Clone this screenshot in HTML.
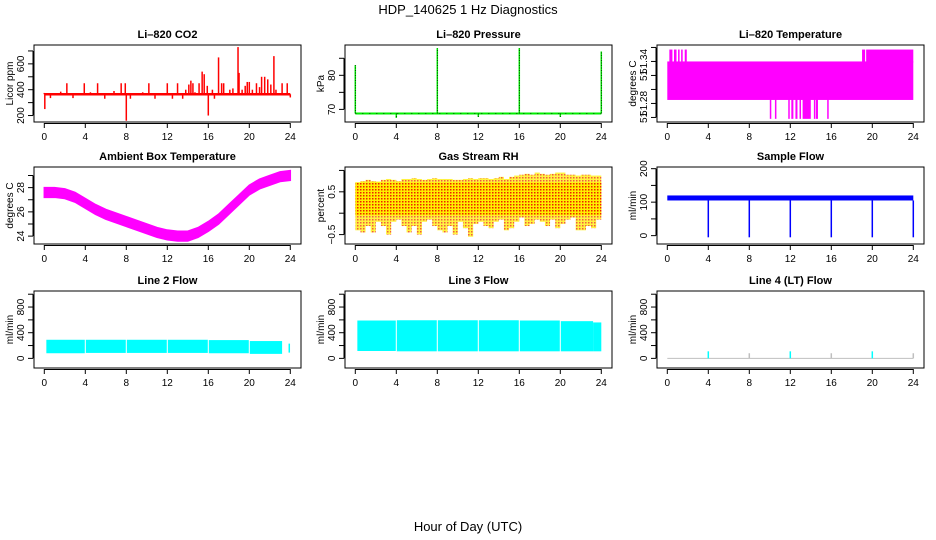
<!DOCTYPE html>
<html><head><meta charset="utf-8"><style>
html,body{margin:0;padding:0;background:#fff;}
svg{display:block;font-family:"Liberation Sans",sans-serif;}
</style></head><body>
<svg id="c" width="936" height="540" viewBox="0 0 936 540" xmlns="http://www.w3.org/2000/svg">
<defs>
<pattern id="rhpat" width="3" height="3" patternUnits="userSpaceOnUse"><rect width="3" height="3" fill="#ffee00"/><rect x="0" y="0" width="1.5" height="1.5" fill="#ee2200"/></pattern>
</defs>
<text x="468" y="14" text-anchor="middle" font-size="13">HDP_140625  1 Hz Diagnostics</text>
<text x="468" y="531" text-anchor="middle" font-size="13">Hour of Day (UTC)</text>
</svg>
<script>
// ---- data ----
const xTicks = [0,4,8,12,16,20,24];
const co2Base = 365;
const co2SpikeHours = [0,0.05,0.6,1.6,2.2,2.8,3.9,4.5,5.2,5.9,6.8,7.5,7.9,8,8.4,9.6,10.2,10.8,12,12.5,13,13.5,13.8,14.1,14.3,14.5,14.7,15.1,15.4,15.6,15.9,16,16.4,16.6,17,17.3,17.5,18.1,18.4,18.9,19,19.3,19.6,19.8,20,20.3,20.7,21,21.2,21.5,21.8,22.1,22.4,22.6,23.2,23.7,24];
const co2SpikeValues = [375,250,335,385,450,335,450,380,450,330,390,450,450,160,330,380,450,330,450,330,450,330,400,440,470,450,380,450,540,520,430,200,400,330,650,450,450,400,410,730,530,400,430,460,460,400,450,420,500,500,480,440,660,400,450,450,340];
const presBase = 68.8;
const presSpikeHours = [0,4,8,12,16,20,24];
const presSpikeValues = [83,67.5,88,67.8,88,67.8,87];
const tempMainLow = 51.285, tempMainHigh = 51.34, tempHigh = 51.357, tempLow = 51.258;
const tempHighStart = [0.2,0.65,1.05,1.35,1.7,19.0,19.4];
const tempHighEnd   = [0.5,0.9,1.2,1.5,1.9,19.3,24.0];
const tempLowStart  = [10.0,10.5,11.8,12.1,12.5,12.9,13.2,14.3,14.5,15.6];
const tempLowEnd    = [10.1,10.6,11.9,12.3,12.7,13.0,14.0,14.4,14.7,15.65];
const ambHours = [0,1,2,3,4,5,6,7,8,9,10,11,12,13,14,15,16,17,18,19,20,21,22,23,24];
const ambValues = [27.6,27.6,27.5,27.2,26.7,26.2,25.8,25.5,25.2,24.9,24.6,24.3,24.1,24.0,24.0,24.3,24.8,25.4,26.2,27.0,27.8,28.3,28.6,28.9,29.0];
const rhUpper = [0.72,0.75,0.78,0.75,0.74,0.78,0.8,0.78,0.75,0.8,0.8,0.82,0.8,0.78,0.8,0.82,0.8,0.8,0.8,0.78,0.78,0.8,0.82,0.8,0.82,0.82,0.8,0.82,0.85,0.8,0.85,0.88,0.9,0.92,0.9,0.95,0.92,0.9,0.92,0.95,0.95,0.9,0.9,0.88,0.9,0.9,0.88,0.88];
const rhLower = [-0.4,-0.45,-0.3,-0.45,-0.2,-0.3,-0.5,-0.2,-0.15,-0.3,-0.45,-0.3,-0.5,-0.2,-0.15,-0.3,-0.4,-0.45,-0.3,-0.5,-0.2,-0.35,-0.55,-0.25,-0.2,-0.3,-0.35,-0.2,-0.15,-0.4,-0.35,-0.2,-0.1,-0.3,-0.25,-0.15,-0.2,-0.3,-0.15,-0.35,-0.25,-0.15,-0.1,-0.4,-0.4,-0.3,-0.35,-0.15];
const flowLow = 105, flowHigh = 120;
const flowDipHours = [4,8,12,16,20,24];
const flowDipValues = [-5,-5,-5,-5,-5,-5];
const line2Low = [80,85,85,85,80,70];
const line2High = [290,290,290,290,285,270];
const line3Low = [115,110,110,110,110,110];
const line3High = [590,594,594,594,590,580];
const segStart = [0.2,4.05,8.05,12.05,16.05,20.05];
const segEnd   = [3.95,7.95,11.95,15.95,19.95,23.2];
const line4SpikeHours = [4,8,12,16,20,24];
const line4SpikeValues = [110,80,110,80,110,80];

// ---- helpers ----
const svg = document.getElementById('c');
const NS = 'http://www.w3.org/2000/svg';
function mk(tag, attrs, parent){
  const e = document.createElementNS(NS, tag);
  for (const k in attrs) e.setAttribute(k, attrs[k]);
  (parent||svg).appendChild(e);
  return e;
}
const colX = [34, 345, 657];
const rowY = [45, 167, 291];
const W = 267, H = 77;
function panel(col,row,ymin,ymax,title,ylab,ticks,labels,name){
  const g = mk('g',{});
  
  
  const L = colX[col], T = rowY[row];
  const xs = h => L + 10.3 + h*(W-21)/24;
  const ys = v => T + H - (v-ymin)/(ymax-ymin)*H;
  const plot = mk('g',{},g);
  
  
  const t = mk('text',{x:L+W/2,y:T-7,'text-anchor':'middle','font-size':11,'font-weight':'bold'},g);
  t.textContent = title;
  
  
  const box = mk('rect',{x:L,y:T,width:W,height:H,fill:'none',stroke:'#000','stroke-width':1},g);
  
  
  const xa = mk('g',{},g);
  
  
  mk('line',{x1:xs(0),x2:xs(24),y1:T+H+0.5+1,y2:T+H+1.5,stroke:'#000'},xa);
  xTicks.forEach(h=>{
    mk('line',{x1:xs(h),x2:xs(h),y1:T+H+1,y2:T+H+6,stroke:'#000'},xa);
    const tx = mk('text',{x:xs(h),y:T+H+18,'text-anchor':'middle','font-size':10},xa);
    tx.textContent = h;
  });
  const ya = mk('g',{},g);
  
  
  mk('line',{x1:L-1,x2:L-1,y1:ys(ticks[0]),y2:ys(ticks[ticks.length-1]),stroke:'#000'},ya);
  ticks.forEach((v,i)=>{
    mk('line',{x1:L-6,x2:L-1,y1:ys(v),y2:ys(v),stroke:'#000'},ya);
    if(labels[i]!==''){
      const tx = mk('text',{x:L-10,y:ys(v),'text-anchor':'middle','font-size':10,transform:`rotate(-90 ${L-10} ${ys(v)})`},ya);
      tx.textContent = labels[i];
    }
  });
  const yl = mk('text',{x:L-21,y:T+H/2,'text-anchor':'middle','font-size':10,transform:`rotate(-90 ${L-21} ${T+H/2})`},g);
  yl.textContent = ylab;
  
  
  return {xs,ys,g:plot};
}

// CO2
(function(){
  const p = panel(0,0,150,746,'Li\u2013820 CO2','Licor ppm',[200,300,400,500,600,700],['200','','400','','600',''],'co2-panel');
  co2SpikeHours.forEach((h,i)=>{
    const e = mk('line',{x1:p.xs(h),x2:p.xs(h),y1:p.ys(co2Base),y2:p.ys(co2SpikeValues[i]),stroke:'#ff0000','stroke-width':1.5},p.g);
    
    
  });
  const b = mk('line',{x1:p.xs(0),x2:p.xs(24),y1:p.ys(co2Base),y2:p.ys(co2Base),stroke:'#ff0000','stroke-width':2.5},p.g);
  
  
})();
// Pressure
(function(){
  const p = panel(1,0,66.3,88.9,'Li\u2013820 Pressure','kPa',[70,75,80,85],['70','','80',''],'pressure-panel');
  const b = mk('line',{x1:p.xs(0),x2:p.xs(24),y1:p.ys(presBase),y2:p.ys(presBase),stroke:'#00ee00','stroke-width':2},p.g);
  
  
  mk('line',{x1:p.xs(0),x2:p.xs(24),y1:p.ys(presBase),y2:p.ys(presBase),stroke:'#000','stroke-width':0.6,'stroke-dasharray':'1 6'},p.g);
  presSpikeHours.forEach((h,i)=>{
    const e = mk('line',{x1:p.xs(h),x2:p.xs(h),y1:p.ys(presBase),y2:p.ys(presSpikeValues[i]),stroke:'#00ee00','stroke-width':1.5},p.g);
    
    
    mk('line',{x1:p.xs(h),x2:p.xs(h),y1:p.ys(presBase),y2:p.ys(presSpikeValues[i]),stroke:'#000','stroke-width':0.7,'stroke-dasharray':'1 1.5'},p.g);
  });
})();
// Li-820 temperature
(function(){
  const p = panel(2,0,51.2535,51.3635,'Li\u2013820 Temperature','degrees C',[51.26,51.28,51.30,51.32,51.34,51.36],['51','51.28','','51','51.34',''],'licor-temp-panel');
  const c='#ff00ff';
  const m = mk('rect',{x:p.xs(0),y:p.ys(tempMainHigh),width:p.xs(24)-p.xs(0),height:p.ys(tempMainLow)-p.ys(tempMainHigh),fill:c},p.g);
  
  
  tempHighStart.forEach((s,i)=>{
    const e = mk('rect',{x:p.xs(s),y:p.ys(tempHigh),width:Math.max(1.5,p.xs(tempHighEnd[i])-p.xs(s)),height:p.ys(tempMainHigh)-p.ys(tempHigh)+1,fill:c},p.g);
    
    
  });
  tempLowStart.forEach((s,i)=>{
    const e = mk('rect',{x:p.xs(s),y:p.ys(tempMainLow)-1,width:Math.max(1.5,p.xs(tempLowEnd[i])-p.xs(s)),height:p.ys(tempLow)-p.ys(tempMainLow)+1,fill:c},p.g);
    
    
  });
})();
// Ambient
(function(){
  const p = panel(0,1,23.35,29.7,'Ambient Box Temperature','degrees C',[24,25,26,27,28,29],['24','','26','','28',''],'ambient-temp-panel');
  let up='', dn='';
  ambHours.forEach((h,i)=>{ up += (i?'L':'M')+p.xs(h)+' '+p.ys(ambValues[i]+0.4)+' '; });
  for(let i=ambHours.length-1;i>=0;i--){ dn += 'L'+p.xs(ambHours[i])+' '+p.ys(ambValues[i]-0.4)+' '; }
  const e = mk('path',{d:up+dn+'Z',fill:'#ff00ff',stroke:'#ff00ff','stroke-width':1.5},p.g);
  
  
})();
// RH
(function(){
  const p = panel(1,1,-0.72,1.08,'Gas Stream RH','percent',[-0.5,0,0.5,1.0],['\u22120.5','','0.5',''],'rh-panel');
  const n = rhUpper.length;
  const core = mk('rect',{x:p.xs(0),y:p.ys(0.72),width:p.xs(24)-p.xs(0),height:p.ys(-0.05)-p.ys(0.72),fill:'url(#rhpat)'},p.g);
  
  
  rhUpper.forEach((u,i)=>{
    const h0 = i*24/n, h1=(i+1)*24/n;
    const e = mk('rect',{x:p.xs(h0),y:p.ys(u),width:p.xs(h1)-p.xs(h0),height:p.ys(rhLower[i])-p.ys(u),fill:'url(#rhpat)','fill-opacity':0.75},p.g);
    
    
  });
})();
// Sample flow
(function(){
  const p = panel(2,1,-25,205,'Sample Flow','ml/min',[0,50,100,150,200],['0','','100','','200'],'sample-flow-panel');
  const b = mk('rect',{x:p.xs(0),y:p.ys(flowHigh),width:p.xs(24)-p.xs(0),height:p.ys(flowLow)-p.ys(flowHigh),fill:'#0000ff'},p.g);
  
  
  flowDipHours.forEach((h,i)=>{
    const e = mk('line',{x1:p.xs(h),x2:p.xs(h),y1:p.ys(flowLow),y2:p.ys(flowDipValues[i]),stroke:'#0000ff','stroke-width':1.5},p.g);
    
    
  });
})();
// Line 2 & 3
function bandPanel(col,title,name,lows,highs){
  const p = panel(col,2,-150,1050,title,'ml/min',[0,200,400,600,800,1000],['0','','400','','800',''],name);
  segStart.forEach((s,i)=>{
    const e = mk('rect',{x:p.xs(s),y:p.ys(highs[i]),width:p.xs(segEnd[i])-p.xs(s),height:p.ys(lows[i])-p.ys(highs[i]),fill:'#00ffff'},p.g);
    
    
  });
  return p;
}
(function(){
  const p = bandPanel(0,'Line 2 Flow','line2-flow-panel',line2Low,line2High);
  mk('line',{x1:p.xs(23.9),x2:p.xs(23.9),y1:p.ys(90),y2:p.ys(230),stroke:'#00ffff','stroke-width':1.5},p.g);
})();
(function(){
  const p = bandPanel(1,'Line 3 Flow','line3-flow-panel',line3Low,line3High);
  mk('rect',{x:p.xs(23.2),y:p.ys(560),width:p.xs(24)-p.xs(23.2),height:p.ys(110)-p.ys(560),fill:'#00ffff'},p.g);
})();
// Line 4
(function(){
  const p = panel(2,2,-150,1050,'Line 4 (LT) Flow','ml/min',[0,200,400,600,800,1000],['0','','400','','800',''],'line4-flow-panel');
  const b = mk('line',{x1:p.xs(0),x2:p.xs(24),y1:p.ys(0),y2:p.ys(0),stroke:'#bfbfbf','stroke-width':1},p.g);
  
  
  line4SpikeHours.forEach((h,i)=>{
    const e = mk('line',{x1:p.xs(h),x2:p.xs(h),y1:p.ys(0),y2:p.ys(line4SpikeValues[i]),stroke:i%2?'#bfbfbf':'#00ffff','stroke-width':1.5},p.g);
    
    
  });
})();
</script>
</body></html>
